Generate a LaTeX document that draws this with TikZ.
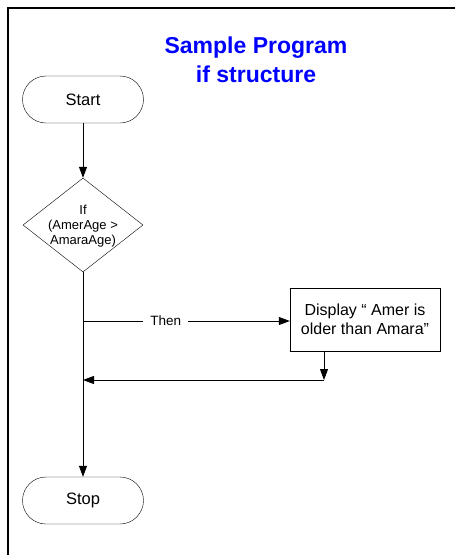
\documentclass[tikz,border=0pt]{standalone}
\usepackage{fontspec}
\setmainfont{Liberation Sans}
\usetikzlibrary{shapes.geometric,arrows.meta}
\def\conn{\draw[flow]}

\begin{document}
\begin{tikzpicture}[x=1pt,y=-1pt,
    term/.style={draw,rounded corners=23.5pt,minimum width=121pt,minimum height=47pt,font=\fontsize{16.5}{19}\selectfont},
    test/.style={draw,diamond,minimum width=120pt,minimum height=94pt,inner sep=0pt},
    proc/.style={draw,minimum width=150pt,minimum height=63pt,align=center,font=\fontsize{16}{19}\selectfont},
    flow/.style={line width=0.8pt,-{Triangle[length=11pt,width=8pt]}}]
                \useasboundingbox (0,0) rectangle (455,555);
                \draw[line width=2pt] (8,555) -- (8,8) -- (455,8);
                \node[text=blue,align=center,font=\bfseries\fontsize{23}{29}\selectfont] (title) at (256,59.5) {Sample Program\\if structure};
                \node[term] (start) at (83,99.5) {Start};
                \node[test] (if) at (83,225) {};
                \node[align=center,font=\fontsize{13}{15}\selectfont] (cond) at (83,226) {If\\(AmerAge >\\AmaraAge)};
                \node[proc] (disp) at (365,319.5) {Display “ Amer is\\older than Amara”};
                \node[term] (stop) at (83,500.5) {Stop};
                \coordinate (then) at (83,321);
                \coordinate (back) at (324,380);
                \coordinate (join) at (83,380);
                \conn (start) -- (if);
                \conn (if) -- (stop);
                \conn (then) -- (disp.west |- then) node[pos=0.4,fill=white,inner xsep=7pt,font=\fontsize{13.5}{15}\selectfont] (lbl) {Then};
                \conn (disp.south -| back) -- (back);
                \conn (back) -- (join);
            \end{tikzpicture}
\end{document}
